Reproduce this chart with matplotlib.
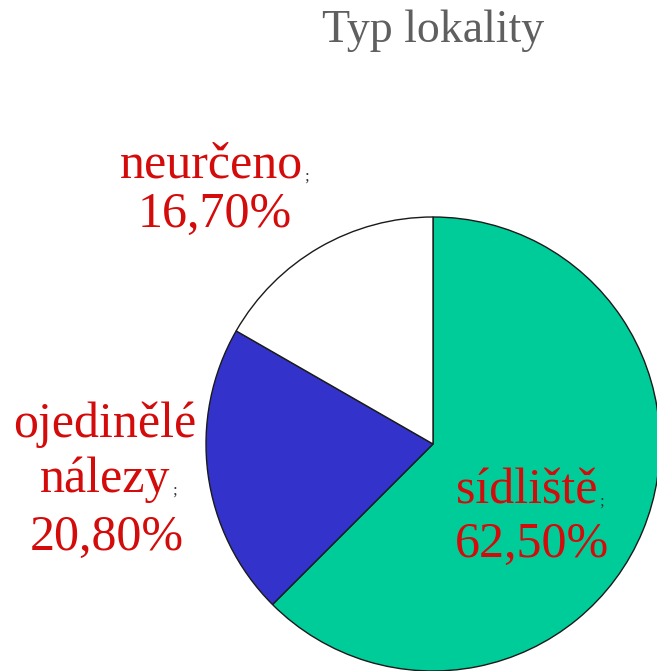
import matplotlib.pyplot as plt

# data
names = ['sídliště', 'ojedinělé\nnálezy', 'neurčeno']
values = [62.5, 20.8, 16.7]
colors = ['#00cc99', '#3333cc', '#ffffff']
title = 'Typ lokality'

W, H = 657, 671
fig = plt.figure(figsize=(W / 100, H / 100), dpi=100)
ax = fig.add_axes([0, 0, 1, 1])

# pie in pixel coords (y measured from bottom)
ax.pie(values, colors=colors, startangle=90, counterclock=False,
       center=(433, H - 444), radius=227,
       wedgeprops=dict(edgecolor='#1a1a1a', linewidth=1.0))
ax.set_xlim(0, W)
ax.set_ylim(0, H)
ax.set_aspect('equal')
ax.axis('off')

serif = ['Liberation Serif', 'DejaVu Serif']
red = '#d40b0b'

ax.text(433, H - 42, title, ha='center', va='baseline', fontsize=33,
        color='#5f5f5f', family=serif)

# label layout: name line baselines, value baseline, centre x
layout = [
    dict(x=527, lines=[503], vy=557, vx=532),
    dict(x=105, lines=[437, 492], vy=550, vx=107),
    dict(x=211, lines=[178], vy=227, vx=215),
]

for name, v, lay in zip(names, values, layout):
    parts = name.split('\n')
    t = None
    for part, by in zip(parts, lay['lines']):
        t = ax.text(lay['x'], H - by, part, ha='center', va='baseline',
                    fontsize=36, color=red, family=serif)
    ax.annotate(';', xy=(1, H - lay['lines'][-1]), xycoords=(t, 'data'),
                xytext=(1, -2), textcoords='offset points',
                ha='left', va='baseline', fontsize=12, color='#333333',
                family=serif)
    pct = f'{v:.2f}%'.replace('.', ',')
    ax.text(lay['vx'], H - lay['vy'], pct, ha='center', va='baseline',
            fontsize=36, color=red, family=serif)

fig.savefig('out.png', dpi=100)
